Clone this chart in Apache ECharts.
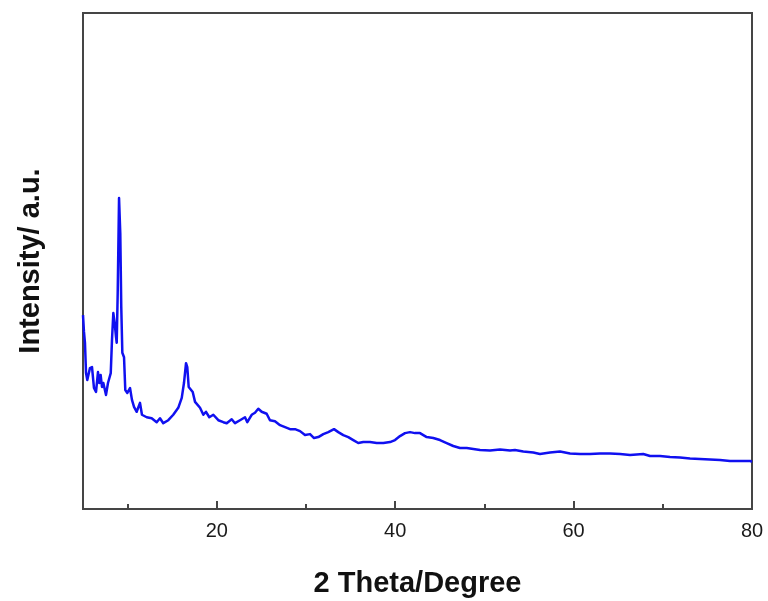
<!DOCTYPE html>
<html>
<head>
<meta charset="utf-8">
<script src="https://cdn.jsdelivr.net/npm/echarts@6/dist/echarts.min.js"></script>
<style>
  html, body { margin: 0; padding: 0; background: #fff; }
  #xrd { width: 768px; height: 601px; }
</style>
</head>
<body>
<div id="xrd"></div>
<script>
// 2 theta (degree) and intensity (a.u.)
var twoTheta = [
    5.00, 5.11, 5.22, 5.34, 5.48, 5.78, 6.01, 6.23, 6.46, 6.68,
    6.83, 6.98, 7.13, 7.28, 7.58, 7.80, 8.11, 8.25, 8.40, 8.55,
    8.70, 8.78, 8.89, 9.04, 9.18, 9.29, 9.41, 9.60, 9.74, 9.97,
    10.27, 10.49, 10.72, 11.02, 11.39, 11.61, 12.14, 12.70, 13.26, 13.63,
    14.00, 14.56, 15.12, 15.68, 16.07, 16.32, 16.55, 16.69, 16.85, 17.07,
    17.30, 17.56, 17.75, 18.12, 18.49, 18.79, 19.16, 19.61, 20.17, 20.73,
    21.11, 21.67, 22.04, 22.60, 23.16, 23.42, 23.91, 24.28, 24.65, 25.03,
    25.59, 25.96, 26.52, 27.09, 27.65, 28.21, 28.77, 29.33, 29.89, 30.45,
    30.90, 31.38, 31.94, 32.50, 33.14, 33.62, 34.18, 34.74, 35.30, 35.86,
    36.42, 37.17, 37.93, 38.67, 39.42, 39.98, 40.54, 41.10, 41.66, 42.22,
    42.78, 43.53, 44.27, 45.02, 45.77, 46.51, 47.26, 48.02, 48.76, 49.51,
    50.63, 51.75, 52.87, 53.43, 54.36, 55.48, 56.23, 57.35, 58.48, 59.60,
    60.72, 61.84, 62.96, 64.08, 65.21, 66.33, 67.81, 68.57, 69.69, 70.81,
    71.93, 73.05, 74.17, 75.29, 76.41, 77.53, 78.65, 79.78, 80.00
];
var intensity = [
    391, 357, 335, 274, 260, 284, 286, 244, 236, 276,
    254, 270, 246, 254, 230, 254, 274, 341, 395, 375,
    347, 335, 435, 627, 556, 407, 315, 306, 240, 234,
    244, 220, 206, 196, 214, 190, 185, 183, 175, 183,
    173, 179, 190, 204, 224, 254, 294, 286, 246, 244,
    236, 216, 220, 204, 190, 196, 185, 190, 179, 175,
    173, 181, 173, 179, 185, 175, 190, 194, 202, 196,
    192, 179, 177, 169, 165, 161, 161, 157, 149, 151,
    143, 145, 151, 155, 161, 155, 149, 145, 139, 133,
    135, 135, 133, 133, 135, 139, 147, 153, 155, 153,
    153, 145, 143, 139, 133, 127, 123, 123, 121, 119,
    118, 120, 118, 119, 116, 114, 111, 114, 116, 112,
    111, 111, 112, 112, 111, 109, 111, 107, 107, 105,
    104, 102, 101, 100, 99, 97, 97, 97, 95
];
var majorTicks = [20, 40, 60, 80];
var minorTicks = [10, 30, 50, 70];

var points = twoTheta.map(function (t, i) { return [t, intensity[i]]; });

var chart = echarts.init(document.getElementById('xrd'));
var frame = '#454545';
var font = 'Liberation Sans, Arial, sans-serif';

var option = {
    animation: false,
    backgroundColor: '#fff',
    grid: {
        left: 83, right: 16, top: 13, bottom: 92,
        outerBoundsMode: 'none',
        show: true, borderColor: frame, borderWidth: 2, backgroundColor: 'transparent'
    },
    xAxis: [
        {
            type: 'value', min: 5, max: 80,
            name: '2 Theta/Degree', nameLocation: 'middle', nameGap: 60,
            nameTextStyle: { fontFamily: font, fontWeight: 'bold', fontSize: 29, color: '#111' },
            axisLine: { show: false },
            axisTick: { show: true, inside: true, length: 8, customValues: majorTicks,
                        lineStyle: { color: frame, width: 2 } },
            axisLabel: { customValues: majorTicks, margin: 12,
                         fontFamily: font, fontSize: 20, color: '#1a1a1a' },
            splitLine: { show: false }
        },
        {
            type: 'value', min: 5, max: 80, position: 'bottom',
            axisLine: { show: false },
            axisTick: { show: true, inside: true, length: 5, customValues: minorTicks,
                        lineStyle: { color: frame, width: 2 } },
            axisLabel: { show: false },
            splitLine: { show: false }
        }
    ],
    yAxis: {
        type: 'value', min: 0, max: 1000,
        name: 'Intensity/ a.u.', nameLocation: 'middle', nameGap: 38,
        nameTextStyle: { fontFamily: font, fontWeight: 'bold', fontSize: 29, color: '#111' },
        axisLine: { show: false },
        axisTick: { show: false },
        axisLabel: { show: false },
        splitLine: { show: false }
    },
    series: [
        {
            type: 'line',
            data: points,
            smooth: false,
            showSymbol: false,
            lineStyle: { color: '#1010f0', width: 2.5, join: 'round' }
        }
    ]
};

chart.setOption(option);
</script>
</body>
</html>
